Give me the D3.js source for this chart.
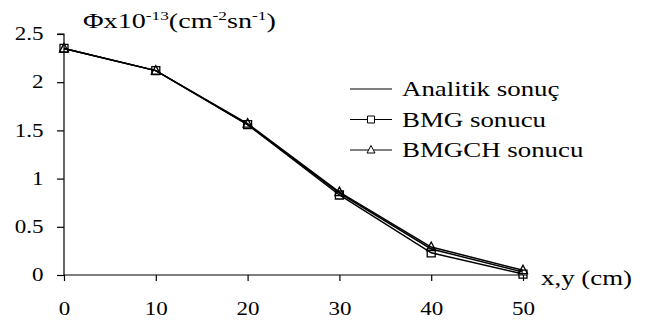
<!DOCTYPE html>
<html>
<head>
<meta charset="utf-8">
<script src="https://cdn.jsdelivr.net/npm/d3@7"></script>
<style>
  body { margin: 0; background: #fff; }
  svg { display: block; }
  text { font-family: "Liberation Serif", "DejaVu Serif", serif; fill: #000; }
</style>
</head>
<body>
<div id="chart"></div>
<script>
const xValues = [0, 10, 20, 30, 40, 50];
const analitik = [2.35, 2.12, 1.56, 0.85, 0.27, 0.03];
const bmg = [2.35, 2.12, 1.56, 0.83, 0.23, 0.01];
const bmgch = [2.35, 2.12, 1.57, 0.86, 0.29, 0.05];
const yTicks = [0, 0.5, 1, 1.5, 2, 2.5];
const seriesNames = ['Analitik sonuç', 'BMG sonucu', 'BMGCH sonucu'];

const width = 655, height = 324;
const margin = { left: 64, right: 132, top: 34, bottom: 49 };
const stretch = 1.28; // the source picture is wider than it is tall

const serif = '"Liberation Serif", "DejaVu Serif", serif';

const svg = d3.select('#chart').append('svg')
  .attr('width', width)
  .attr('height', height);

const x = d3.scaleLinear().domain([0, 50]).range([margin.left, width - margin.right]);
const y = d3.scaleLinear().domain([0, 2.5]).range([height - margin.bottom, margin.top]);

// axes
svg.append('g')
  .attr('transform', `translate(0,${y(0)})`)
  .call(d3.axisBottom(x).tickValues(xValues).tickSize(6).tickPadding(21).tickFormat(d3.format('d')))
  .call(g => g.select('.domain').attr('d', `M${x(0)},0H${x(50) + 4}`))
  .call(g => g.selectAll('line').attr('stroke-width', 1.2))
  .call(g => g.selectAll('text')
    .attr('font-size', 18)
    .attr('font-family', serif)
    .attr('fill', '#000')
    .attr('transform', `scale(${stretch},1)`));

svg.append('g')
  .attr('transform', `translate(${x(0)},0)`)
  .call(d3.axisLeft(y).tickValues(yTicks).tickSize(7).tickPadding(9).tickFormat(d => String(d)))
  .call(g => g.select('.domain').attr('d', `M0,${y(0)}V${y(2.5)}H-7`))
  .call(g => g.selectAll('line').attr('stroke-width', 1.2))
  .call(g => g.selectAll('text')
    .attr('font-size', 18)
    .attr('font-family', serif)
    .attr('fill', '#000')
    .attr('transform', `scale(${stretch},1)`));

svg.selectAll('.domain').attr('stroke-width', 1.2);

// lines
const line = vals => d3.line().x((d, i) => x(xValues[i])).y(d => y(d))(vals);

[bmg, bmgch, analitik].forEach(vals => {
  svg.append('path')
    .attr('d', line(vals))
    .attr('fill', 'none')
    .attr('stroke', '#000')
    .attr('stroke-width', 1.5);
});

const squarePath = 'M-4,-4H4V4H-4Z';
const triPath = 'M0,-5L4.5,3.5H-4.5Z';

svg.append('g').selectAll('path')
  .data(bmg)
  .join('path')
  .attr('transform', (d, i) => `translate(${x(xValues[i])},${y(d)})`)
  .attr('d', squarePath)
  .attr('fill', 'none')
  .attr('stroke', '#000')
  .attr('stroke-width', 1.3);

svg.append('g').selectAll('path')
  .data(bmgch)
  .join('path')
  .attr('transform', (d, i) => `translate(${x(xValues[i])},${y(d)})`)
  .attr('d', triPath)
  .attr('fill', 'none')
  .attr('stroke', '#000')
  .attr('stroke-width', 1.3);

// legend
const legend = svg.append('g').attr('transform', 'translate(350,89)');
seriesNames.forEach((name, i) => {
  const g = legend.append('g').attr('transform', `translate(0,${i * 30.5})`);
  g.append('line').attr('x1', 0).attr('x2', 42).attr('stroke', '#000').attr('stroke-width', 1.2);
  if (i === 1) g.append('path').attr('transform', 'translate(21,0)').attr('d', 'M-3.5,-3.5H3.5V3.5H-3.5Z').attr('fill', '#fff').attr('stroke', '#000');
  if (i === 2) g.append('path').attr('transform', 'translate(21,0)').attr('d', 'M0,-4.5L4,3H-4Z').attr('fill', '#fff').attr('stroke', '#000');
  g.append('text')
    .attr('transform', `translate(52,7) scale(${stretch},1)`)
    .attr('font-size', 21)
    .attr('font-family', serif)
    .text(name);
});

// titles
const title = svg.append('text')
  .attr('transform', `translate(83,28) scale(${stretch},1)`)
  .attr('font-size', 22)
  .attr('font-family', serif);
title.append('tspan').text('Φx10');
title.append('tspan').attr('dy', -8).attr('font-size', 13.5).text('-13');
title.append('tspan').attr('dy', 8).text('(cm');
title.append('tspan').attr('dy', -8).attr('font-size', 13.5).text('-2');
title.append('tspan').attr('dy', 8).text('sn');
title.append('tspan').attr('dy', -8).attr('font-size', 13.5).text('-1');
title.append('tspan').attr('dy', 8).text(')');

svg.append('text')
  .attr('transform', `translate(541,285) scale(${stretch},1)`)
  .attr('font-size', 21)
  .attr('font-family', serif)
  .text('x,y (cm)');
</script>
</body>
</html>
